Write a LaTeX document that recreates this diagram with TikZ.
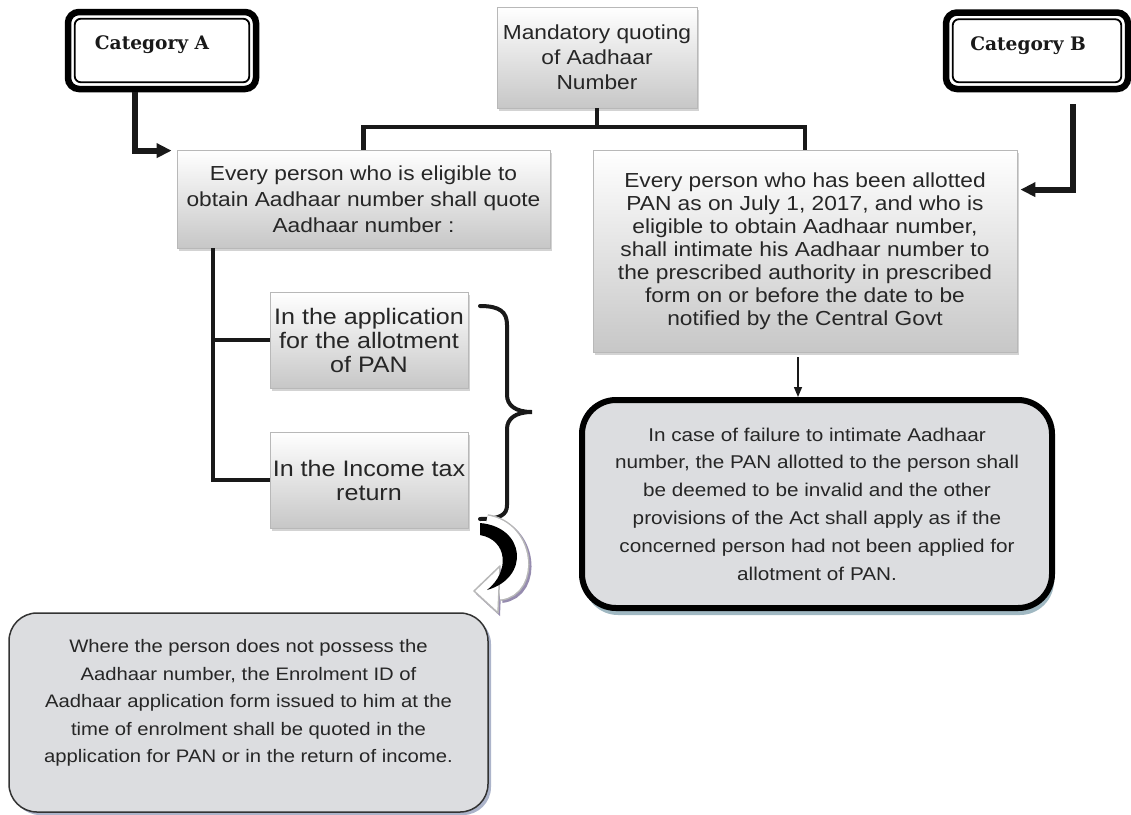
\documentclass[tikz,border=0pt]{standalone}
\usepackage{fontspec}
\usetikzlibrary{arrows.meta,shadows}
\newfontfamily\boxfont[FakeStretch=1.12]{Liberation Sans}
\newfontfamily\catfont{DejaVu Serif}
\definecolor{ink}{RGB}{38,38,38}
\definecolor{panel}{RGB}{220,221,224}
\definecolor{panelshade}{RGB}{160,184,194}
\definecolor{enrolshade}{RGB}{172,180,202}
\definecolor{arrowshade}{RGB}{150,140,175}
\begin{document}
\begin{tikzpicture}[x=1pt,y=-1pt,
  gbox/.style={rectangle, draw=black!28, line width=0.8pt,
    top color=white, bottom color=black!22,
    drop shadow={shadow xshift=2pt, shadow yshift=-3pt, opacity=0.35},
    text=ink, align=center, inner sep=0pt},
  mainfont/.style={font={\boxfont\fontsize{20.3}{#1}\selectfont}},
  smallfont/.style={font={\boxfont\fontsize{22.4}{24}\selectfont}},
  catbox/.style={rectangle, draw=black, line width=6.5pt, fill=white,
    rounded corners=11pt, inner sep=0pt},
  catinner/.style={draw=black, line width=1.8pt, rounded corners=6pt},
  cattext/.style={font={\catfont\bfseries\fontsize{18.6}{22}\selectfont}, text=black!90, inner sep=0pt},
  failbox/.style={rectangle, draw=black, line width=6pt, fill=panel,
    rounded corners=34pt, inner sep=0pt, align=center, text=ink,
    drop shadow={shadow xshift=2pt, shadow yshift=-7pt, fill=panelshade, opacity=1},
    font={\boxfont\fontsize{18.5}{27.8}\selectfont}},
  enrolbox/.style={rectangle, draw=black!80, line width=1.5pt, fill=panel,
    rounded corners=28pt, inner sep=0pt, align=center, text=ink,
    drop shadow={shadow xshift=3pt, shadow yshift=-3pt, fill=enrolshade, opacity=1},
    font={\boxfont\fontsize{18.1}{27.5}\selectfont}},
  conn/.style={draw=black!90, line width=4.5pt},
  catarrow/.style={draw=black!90, line width=6pt, -{Triangle[length=15pt,width=14pt]}},
  thinarrow/.style={draw=black!90, line width=1.5pt, -{Triangle[length=10pt,width=8pt]}},
  bracestyle/.style={draw=black!90, line width=4pt, line cap=round}
]
\useasboundingbox (0,0) rectangle (1131,814);

% category headers
\node[catbox, minimum width=188, minimum height=77] (catA) at (162,50.5) {};
\draw[catinner] ([shift={(10,10)}]catA.north west) rectangle ([shift={(-10,-10)}]catA.south east);
\node[cattext] (catAtext) at ([shift={(-10,-5.5)}]catA.center) {Category A};

\node[catbox, minimum width=182, minimum height=76.5] (catB) at (1037,50.75) {};
\draw[catinner] ([shift={(10,10)}]catB.north west) rectangle ([shift={(-10,-10)}]catB.south east);
\node[cattext] (catBtext) at ([shift={(-9,-5.5)}]catB.center) {Category B};

% main boxes
\node[gbox, mainfont=25, minimum width=200, minimum height=101] (mand) at (597,57.5)
  {Mandatory quoting\\of Aadhaar\\Number};
\node[gbox, mainfont=26, minimum width=373, minimum height=98] (elig) at (363.5,199)
  {Every person who is eligible to\\obtain Aadhaar number shall quote\\Aadhaar number :};
\node[gbox, mainfont=23, minimum width=424, minimum height=202] (allot) at (805,251)
  {Every person who has been allotted\\PAN as on July 1, 2017, and who is\\eligible to obtain Aadhaar number,\\shall intimate his Aadhaar number to\\the prescribed authority in prescribed\\form on or before the date to be\\notified by the Central Govt};
\node[gbox, smallfont, minimum width=198, minimum height=96] (app) at (369,340)
  {In the application\\for the allotment\\of PAN};
\node[gbox, smallfont, minimum width=198, minimum height=96] (itr) at (369,480)
  {In the Income tax\\return};

% outcome boxes
\node[failbox, minimum width=470, minimum height=208] (fail) at (817,504)
  {In case of failure to intimate Aadhaar\\number, the PAN allotted to the person shall\\be deemed to be invalid and the other\\provisions of the Act shall apply as if the\\concerned person had not been applied for\\allotment of PAN.};
\node[enrolbox, text depth=23pt, minimum width=479, minimum height=199] (enrol) at (248.5,712.5)
  {Where the person does not possess the\\Aadhaar number, the Enrolment ID of\\Aadhaar application form issued to him at the\\time of enrolment shall be quoted in the\\application for PAN or in the return of income.};

% tree connectors
\coordinate (bus) at (597,127);
\draw[conn] (mand.south) -- (bus);
\draw[conn] (elig.north) |- (bus) -| (allot.north);
\coordinate (trunk) at (213,248);
\draw[conn] (trunk) |- (itr.west);
\draw[conn] (app.west) -- (app.west -| trunk);

% category arrows
\coordinate (aDrop) at (134.5,0);
\draw[catarrow] (catA.south -| aDrop) |- ([shift={(-5,1)}]elig.north west);
\coordinate (bTop) at (1073,104);
\draw[catarrow] (bTop) |- ([shift={(3,40)}]allot.north east);

% consequence arrow
\draw[thinarrow] ([shift={(-7,5)}]allot.south) -- ([xshift=-19]fail.north);

% brace grouping the two places of quoting
\draw[bracestyle] (480,306) .. controls (500,306) and (507,312) .. (507,325)
  -- (507,395) .. controls (507,405) and (515,412) .. (532,412)
  .. controls (515,412) and (507,419) .. (507,429)
  -- (507,505) .. controls (507,515) and (500,519) .. (480,519);

% curved arrow towards the enrolment note
\begin{scope}
  \draw[arrowshade, line width=20pt] (488,526) .. controls (528,532) and (532,590) .. (501,593);
  \fill[arrowshade] (476,594) -- (502,568) -- (500,616) -- cycle;
  \draw[black!28, line width=20pt] (486,524) .. controls (526,530) and (530,588) .. (499,591);
  \draw[white, line width=17pt] (486,524) .. controls (526,530) and (530,588) .. (499,591);
  \filldraw[fill=white, draw=black!28, line width=1.5pt, line join=round]
    (474,591) -- (500,566) -- (498,613) -- cycle;
  \fill[black] (480,523) .. controls (526,527) and (530,578) .. (487,590)
    .. controls (510,572) and (508,540) .. (480,535) -- cycle;
\end{scope}
\end{tikzpicture}
\end{document}
